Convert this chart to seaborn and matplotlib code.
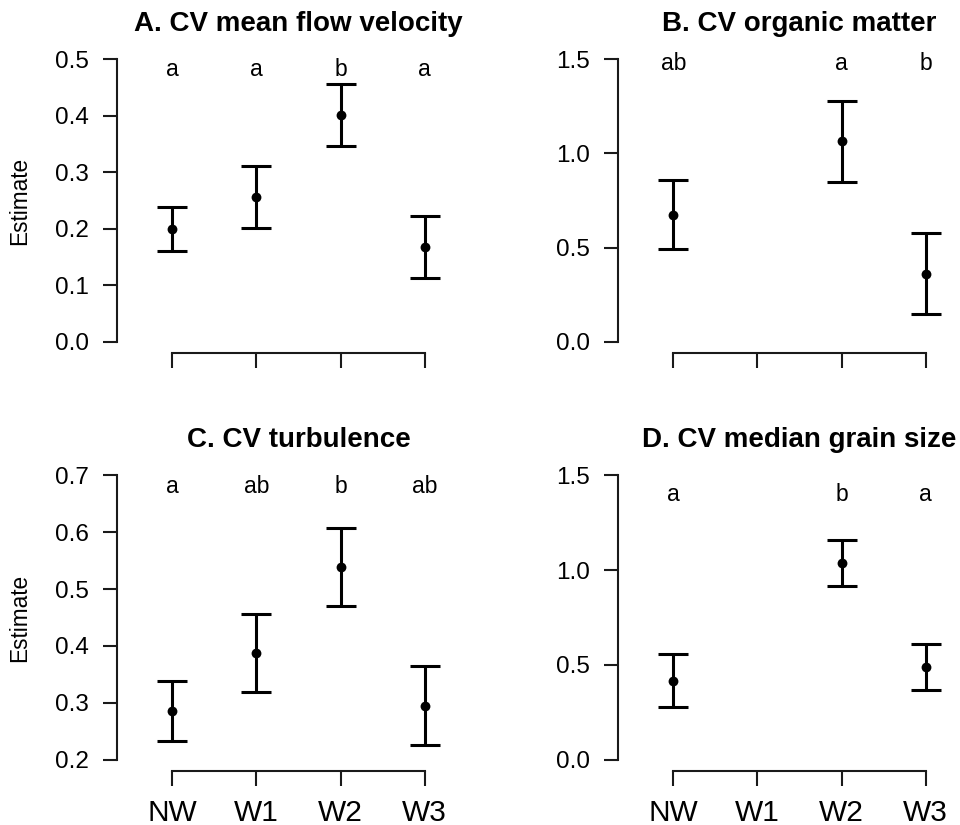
import matplotlib
matplotlib.use("Agg")
import matplotlib.pyplot as plt
import seaborn as sns
import pandas as pd
import numpy as np

sites = ["NW", "W1", "W2", "W3"]

# Panel A: CV mean flow velocity
a_est = [0.200, 0.256, 0.401, 0.168]
a_lo = [0.161, 0.202, 0.346, 0.113]
a_hi = [0.239, 0.311, 0.456, 0.223]
a_let = ["a", "a", "b", "a"]

# Panel B: CV organic matter (no W1)
b_est = [0.675, np.nan, 1.064, 0.362]
b_lo = [0.491, np.nan, 0.846, 0.147]
b_hi = [0.857, np.nan, 1.277, 0.579]
b_let = ["ab", "", "a", "b"]

# Panel C: CV turbulence
c_est = [0.285, 0.388, 0.539, 0.295]
c_lo = [0.233, 0.319, 0.470, 0.226]
c_hi = [0.338, 0.457, 0.608, 0.365]
c_let = ["a", "ab", "b", "ab"]

# Panel D: CV median grain size (no W1)
d_est = [0.414, np.nan, 1.039, 0.488]
d_lo = [0.277, np.nan, 0.917, 0.367]
d_hi = [0.557, np.nan, 1.159, 0.612]
d_let = ["a", "", "b", "a"]

titles = ["A. CV mean flow velocity", "B. CV organic matter",
          "C. CV turbulence", "D. CV median grain size"]
yticks_list = [[0.0, 0.1, 0.2, 0.3, 0.4, 0.5],
               [0.0, 0.5, 1.0, 1.5],
               [0.2, 0.3, 0.4, 0.5, 0.6, 0.7],
               [0.0, 0.5, 1.0, 1.5]]
letter_y = [0.470, 1.441, 0.669, 1.363]

sns.set_theme(style="ticks")
plt.rcParams['font.family'] = ['Liberation Sans', 'DejaVu Sans']
plt.rcParams['text.color'] = 'black'
plt.rcParams['axes.labelcolor'] = 'black'
plt.rcParams['xtick.color'] = 'black'
plt.rcParams['ytick.color'] = 'black'
plt.rcParams['axes.titlecolor'] = 'black'

fig = plt.figure(figsize=(9.6, 8.25), dpi=100)
W, H = 960.0, 825.0

def axes_rect(left_px, top_px, bottom_px, width_px=363):
    return [left_px / W, (H - bottom_px) / H, width_px / W, (bottom_px - top_px) / H]

rects = [axes_rect(117, 48, 353), axes_rect(618, 48, 353),
         axes_rect(117, 464, 771), axes_rect(618, 464, 771)]

panels = [(a_est, a_lo, a_hi, a_let), (b_est, b_lo, b_hi, b_let),
          (c_est, c_lo, c_hi, c_let), (d_est, d_lo, d_hi, d_let)]

for i, (est, lo, hi, let) in enumerate(panels):
    ax = fig.add_axes(rects[i])
    df = pd.DataFrame({"x": [1, 2, 3, 4], "site": sites, "est": est,
                       "lo": lo, "hi": hi, "let": let}).dropna()
    ax.errorbar(df["x"], df["est"],
                yerr=[df["est"] - df["lo"], df["hi"] - df["est"]],
                fmt="none", ecolor="black", elinewidth=2.2, capsize=11,
                capthick=2.2, zorder=2)
    sns.scatterplot(data=df, x="x", y="est", ax=ax, color="black", s=50,
                    edgecolor="black", linewidth=0, zorder=3, legend=False)
    yt = yticks_list[i]
    span = yt[-1] - yt[0]
    ax.set_ylim(yt[0] - 0.04 * span, yt[-1] + 0.04 * span)
    ax.set_xlim(0.34, 4.66)
    ax.set_yticks(yt)
    ax.set_yticklabels([f"{v:.1f}" for v in yt])
    ax.set_xticks([1, 2, 3, 4])
    if i >= 2:
        ax.set_xticklabels(sites, fontsize=21.5)
    else:
        ax.set_xticklabels([])
    for spine in ["top", "right"]:
        ax.spines[spine].set_visible(False)
    ax.spines["left"].set_bounds(yt[0], yt[-1])
    ax.spines["bottom"].set_bounds(1, 4)
    for spine in ["left", "bottom"]:
        ax.spines[spine].set_linewidth(1.5)
        ax.spines[spine].set_color("#1a1a1a")
    ax.tick_params(axis="y", length=10, width=1.5, pad=10, labelsize=17.5,
                   color="#1a1a1a", labelcolor="black")
    ax.tick_params(axis="x", length=11, width=1.5, pad=9, color="#1a1a1a",
                   labelcolor="black")
    ax.set_xlabel("")
    ax.set_ylabel("")
    if i in (0, 2):
        ax.set_ylabel("Estimate", fontsize=16.3, color="black")
        ax.yaxis.set_label_coords(-0.237, 0.5)
    ax.set_title(titles[i], fontsize=20, fontweight="bold", pad=12,
                 color="black")
    for xv, t in zip([1, 2, 3, 4], let):
        if t:
            ax.text(xv, letter_y[i], t, ha="center", va="baseline",
                    fontsize=16.5, color="black")
    ax.set_facecolor("white")

fig.savefig("out.png", dpi=100, facecolor="white")
